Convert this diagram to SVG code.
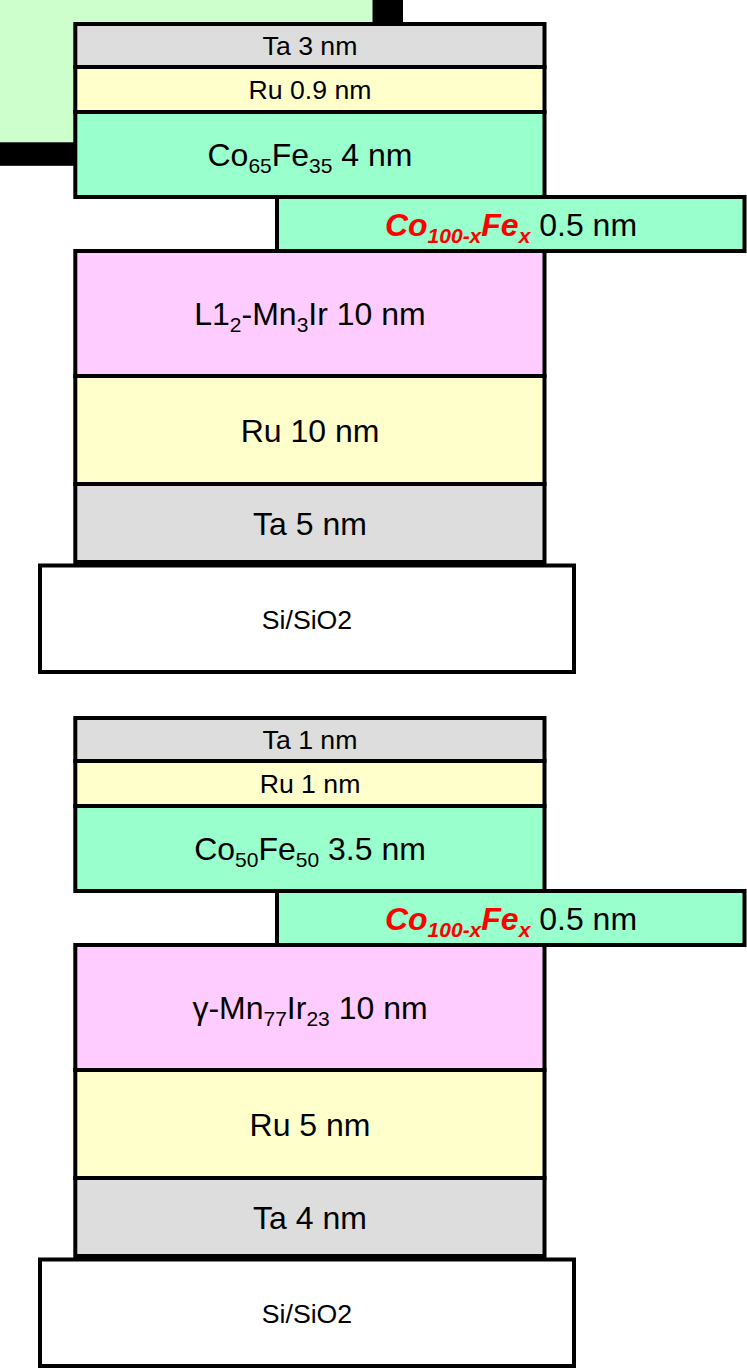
<svg xmlns="http://www.w3.org/2000/svg" width="747" height="1369" viewBox="0 0 747 1369">
<style>
rect.l{stroke:#000;stroke-width:4}
.ta{fill:#DDDDDD}
.ru{fill:#FFFFCC}
.cf{fill:#99FFCC}
.mn{fill:#FFCCFF}
.si{fill:#FFFFFF}
text{font-family:"Liberation Sans",Arial,sans-serif;fill:#000;text-anchor:middle}
.s{font-size:26.67px}
.b{font-size:32px}
.sub{font-size:21px}
.red{fill:#FF0000;font-weight:bold;font-style:italic}
</style>
<rect width="747" height="1369" fill="#FFFFFF"/>
<g id="corner-box">
<rect x="0" y="0" width="373" height="142.5" fill="#CCFFCC"/>
<rect x="372.5" y="0" width="30.5" height="40" fill="#000"/>
<rect x="0" y="142.3" width="90" height="23.5" fill="#000"/>
</g>
<g id="stack1">
<g id="s1-ta3"><rect class="l ta" x="75.3" y="24" width="469.2" height="43"/><text class="s" x="310" y="55">Ta 3 nm</text></g>
<g id="s1-ru09"><rect class="l ru" x="75.3" y="67" width="469.2" height="45"/><text class="s" x="310" y="99">Ru 0.9 nm</text></g>
<g id="s1-cofe"><rect class="l cf" x="75.3" y="112" width="469.2" height="85"/><text class="b" x="310" y="166">Co<tspan class="sub" dy="7">65</tspan><tspan dy="-7">Fe</tspan><tspan class="sub" dy="7">35</tspan><tspan dy="-7"> 4 nm</tspan></text></g>
<g id="s1-mnir"><rect class="l mn" x="75.3" y="251" width="469.2" height="125"/><text class="b" x="310" y="325">L1<tspan class="sub" dy="7">2</tspan><tspan dy="-7">-Mn</tspan><tspan class="sub" dy="7">3</tspan><tspan dy="-7">Ir 10 nm</tspan></text></g>
<g id="s1-ru10"><rect class="l ru" x="75.3" y="376" width="469.2" height="108"/><text class="b" x="310" y="441.5">Ru 10 nm</text></g>
<g id="s1-ta5"><rect class="l ta" x="75.3" y="484" width="469.2" height="78"/><text class="b" x="310" y="534.5">Ta 5 nm</text></g>
<g id="s1-sub"><rect class="l si" x="40" y="565.5" width="534" height="106.5"/><text class="s" x="307" y="628.5">Si/SiO2</text></g>
<g id="s1-cofex"><rect class="l cf" x="277" y="197" width="467.5" height="54"/><text class="b" x="511" y="236"><tspan class="red">Co</tspan><tspan class="red sub" dy="7">100-x</tspan><tspan class="red" dy="-7">Fe</tspan><tspan class="red sub" dy="7">x</tspan><tspan dy="-7"> 0.5 nm</tspan></text></g>
</g>
<g id="stack2" transform="translate(0,694)">
<g id="s2-ta1"><rect class="l ta" x="75.3" y="24" width="469.2" height="43"/><text class="s" x="310" y="55">Ta 1 nm</text></g>
<g id="s2-ru1"><rect class="l ru" x="75.3" y="67" width="469.2" height="45"/><text class="s" x="310" y="99">Ru 1 nm</text></g>
<g id="s2-cofe"><rect class="l cf" x="75.3" y="112" width="469.2" height="85"/><text class="b" x="310" y="166">Co<tspan class="sub" dy="7">50</tspan><tspan dy="-7">Fe</tspan><tspan class="sub" dy="7">50</tspan><tspan dy="-7"> 3.5 nm</tspan></text></g>
<g id="s2-mnir"><rect class="l mn" x="75.3" y="251" width="469.2" height="125"/><text class="b" x="310" y="325">γ-Mn<tspan class="sub" dy="7">77</tspan><tspan dy="-7">Ir</tspan><tspan class="sub" dy="7">23</tspan><tspan dy="-7"> 10 nm</tspan></text></g>
<g id="s2-ru5"><rect class="l ru" x="75.3" y="376" width="469.2" height="108"/><text class="b" x="310" y="441.5">Ru 5 nm</text></g>
<g id="s2-ta4"><rect class="l ta" x="75.3" y="484" width="469.2" height="78"/><text class="b" x="310" y="534.5">Ta 4 nm</text></g>
<g id="s2-sub"><rect class="l si" x="40" y="565.5" width="534" height="106.5"/><text class="s" x="307" y="628.5">Si/SiO2</text></g>
<g id="s2-cofex"><rect class="l cf" x="277" y="197" width="467.5" height="54"/><text class="b" x="511" y="236"><tspan class="red">Co</tspan><tspan class="red sub" dy="7">100-x</tspan><tspan class="red" dy="-7">Fe</tspan><tspan class="red sub" dy="7">x</tspan><tspan dy="-7"> 0.5 nm</tspan></text></g>
</g>
</svg>
